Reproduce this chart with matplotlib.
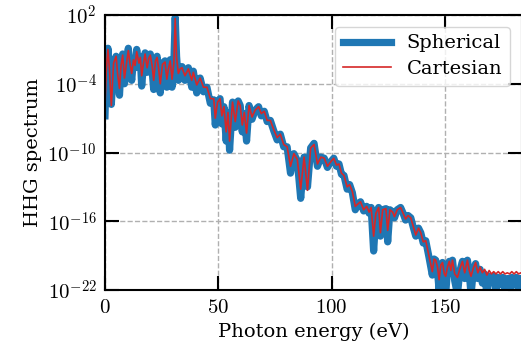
import numpy as np
import matplotlib
matplotlib.use("Agg")
import matplotlib.pyplot as plt

# photon energy (eV) and log10 of the spectrum
energy = [
    0.0, 0.6, 1.3, 2.0, 2.8, 3.8, 4.9, 5.6, 6.4, 7.1, 7.8, 8.6, 9.4, 10.3, 11.0,
    11.8, 12.6, 13.3, 14.0, 15.0, 15.6, 16.2, 17.0, 17.7, 18.6, 19.3, 20.0, 20.8,
    21.5, 22.3, 23.0, 23.7, 24.4, 25.4, 26.5, 27.3, 28.0, 28.8, 29.6, 30.4, 31.0,
    31.6, 32.4, 33.2, 34.0, 35.3, 36.8, 38.3, 39.0, 40.5, 42.0, 43.5, 45.0, 46.5,
    48.0, 48.7, 49.7, 50.8, 51.6, 52.5, 53.5, 54.3, 55.0, 56.3, 57.5, 58.8, 59.7,
    60.6, 61.5, 62.5, 63.6, 64.9, 66.3, 67.8, 69.0, 70.3, 71.6, 73.0, 74.5, 76.0,
    77.4, 78.9, 80.4, 81.9, 83.4, 84.9, 86.4, 87.9, 89.4, 90.8, 92.3, 93.8, 95.3,
    96.8, 98.2, 99.7, 101.0, 102.2, 103.3, 104.4, 105.5, 106.9, 108.0, 109.2,
    110.5, 111.6, 112.8, 114.2, 115.5, 116.6, 117.5, 118.6, 119.6, 120.8, 121.6,
    122.6, 124.0, 124.8, 125.8, 127.0, 127.8, 129.0, 130.5, 131.6, 132.7, 133.8,
    135.0, 136.2, 137.2, 138.4, 139.4, 140.5, 141.6, 143.0, 144.5, 145.3, 146.0,
    146.8, 147.5, 148.3, 149.0, 149.8, 150.4, 151.2, 152.0, 152.7, 153.4, 154.4,
    155.6, 156.6, 157.8, 158.8, 160.0, 160.8, 161.6, 162.6, 163.6, 164.6, 165.6,
    166.6, 167.6, 168.6, 169.6, 170.6, 171.6, 172.6, 173.6, 174.6, 175.6, 176.6,
    177.6, 178.6, 179.6, 180.6, 181.6, 182.6, 183.6, 184.6, 185.6,
]

log_spherical = [
    -6.8, -2.5, -0.9, -3.0, -5.8, -2.2, -1.6, -3.5, -5.0, -2.4, -1.4, -4.0, -2.5,
    -0.9, -2.4, -3.7, -1.8, -2.6, -1.0, -2.5, -1.7, -4.2, -2.3, -1.3, -3.0, -1.8,
    -1.4, -2.8, -4.5, -2.0, -1.6, -3.0, -4.8, -2.2, -2.0, -4.3, -2.8, -1.9, -4.3,
    -2.2, 1.8, -1.6, -3.7, -2.8, -2.5, -3.7, -2.6, -4.3, -2.9, -4.8, -3.5, -4.7,
    -4.3, -5.7, -5.4, -7.6, -5.6, -5.3, -7.5, -6.0, -9.0, -6.5, -9.8, -5.6, -7.8,
    -5.5, -5.9, -8.2, -6.6, -9.0, -5.9, -7.1, -6.3, -6.0, -6.8, -6.4, -7.3, -7.2,
    -8.1, -8.9, -8.4, -9.5, -9.5, -11.8, -10.1, -10.7, -14.0, -10.4, -13.0, -9.6,
    -9.2, -11.2, -10.4, -10.5, -11.3, -10.8, -10.5, -11.2, -11.0, -11.9, -12.0,
    -13.2, -12.8, -13.5, -15.0, -14.5, -14.3, -15.1, -14.7, -15.3, -14.8, -18.6,
    -15.4, -14.8, -17.3, -15.0, -14.9, -17.8, -15.0, -15.2, -15.7, -15.0, -14.8,
    -15.3, -15.9, -15.5, -15.7, -16.6, -17.3, -16.6, -17.0, -17.9, -17.7, -19.1,
    -20.7, -19.3, -19.4, -20.4, -22.0, -20.0, -19.6, -21.0, -22.4, -20.2, -19.5,
    -20.5, -19.4, -21.2, -22.4, -20.4, -19.5, -21.0, -19.4, -20.5, -22.4, -20.3,
    -19.7, -21.0, -20.2, -21.4, -20.6, -22.4, -20.8, -21.3, -20.8, -22.0, -20.9,
    -21.5, -20.9, -22.2, -21.0, -22.4, -20.9, -21.5, -20.9, -22.2, -21.0, -21.5,
    -20.9,
]

log_cartesian = [
    -6.0, -2.8, -1.0, -2.8, -5.9, -2.2, -1.6, -3.2, -4.4, -2.4, -1.5, -3.5, -2.4,
    -1.1, -2.2, -3.1, -1.9, -2.4, -1.2, -2.2, -1.7, -3.3, -2.2, -1.4, -2.6, -1.8,
    -1.5, -2.4, -3.7, -2.0, -1.7, -2.7, -4.0, -2.3, -2.1, -3.6, -2.7, -2.0, -3.6,
    -2.2, 1.7, -1.7, -3.1, -2.7, -2.6, -3.3, -2.7, -3.7, -3.0, -4.1, -3.5, -4.3,
    -4.3, -5.3, -5.3, -7.0, -5.6, -5.3, -6.8, -6.0, -8.2, -6.5, -9.0, -5.6, -7.3,
    -5.5, -5.9, -7.6, -6.5, -8.3, -5.9, -6.9, -6.3, -6.0, -6.6, -6.4, -7.2, -7.2,
    -8.0, -8.7, -8.4, -9.3, -9.5, -11.2, -10.1, -10.6, -13.2, -10.4, -13.3, -9.6,
    -9.3, -11.0, -10.4, -10.5, -11.2, -10.8, -10.5, -11.1, -11.0, -11.8, -12.0,
    -13.0, -12.8, -13.4, -14.7, -14.5, -14.3, -15.0, -14.7, -15.2, -14.8, -17.3,
    -15.3, -14.8, -17.0, -15.0, -14.9, -16.8, -15.0, -15.2, -15.6, -15.0, -14.8,
    -15.3, -15.8, -15.5, -15.7, -16.5, -17.2, -16.6, -17.0, -17.8, -17.7, -19.0,
    -20.4, -19.3, -19.4, -20.0, -21.1, -19.8, -19.6, -20.6, -20.8, -20.0, -19.5,
    -20.3, -19.4, -20.6, -20.9, -20.2, -19.5, -20.5, -19.4, -20.3, -20.8, -20.1,
    -19.6, -20.5, -20.0, -20.5, -20.2, -20.7, -20.3, -20.6, -20.4, -20.6, -20.4,
    -20.6, -20.4, -20.6, -20.5, -20.6, -20.4, -20.6, -20.4, -20.6, -20.5, -20.6,
    -20.4,
]

ytick_exp = [2, -4, -10, -16, -22]
xtick_vals = [0, 50, 100, 150]

plt.rcParams["font.family"] = "DejaVu Serif"
plt.rcParams["mathtext.fontset"] = "cm"

fig = plt.figure(figsize=(5.21, 3.58), dpi=100)
ax = fig.add_axes([0.2015, 0.19, 0.8, 0.768])

ax.semilogy(energy, 10.0 ** np.array(log_spherical), color="#1f77b4", lw=5.2,
            solid_joinstyle="round", label="Spherical")
ax.semilogy(energy, 10.0 ** np.array(log_cartesian), color="#d62728", lw=1.2,
            solid_joinstyle="round", label="Cartesian")

ax.set_xlim(0, 184)
ax.set_ylim(1e-22, 1e2)
ax.set_xticks(xtick_vals)
ax.set_xticklabels([rf"${v}$" for v in xtick_vals])
ax.set_yticks([10.0 ** e for e in ytick_exp])
ax.set_yticklabels([rf"$10^{{{e}}}$" for e in ytick_exp])
ax.yaxis.set_minor_locator(matplotlib.ticker.NullLocator())

ax.tick_params(which="major", direction="in", length=10, width=1.5,
               top=True, right=True, labelsize=15, pad=6)
for sp in ax.spines.values():
    sp.set_linewidth(1.5)
ax.grid(True, ls="--", color="#b0b0b0", lw=1.0)

ax.set_xlabel("Photon energy (eV)", fontsize=14)
ax.set_ylabel("HHG spectrum", fontsize=14)

ax.legend(loc="upper right", fontsize=14, fancybox=True, framealpha=0.8,
          handlelength=2.5, borderaxespad=0.6, labelspacing=0.4)

fig.savefig("out.png", dpi=100)
